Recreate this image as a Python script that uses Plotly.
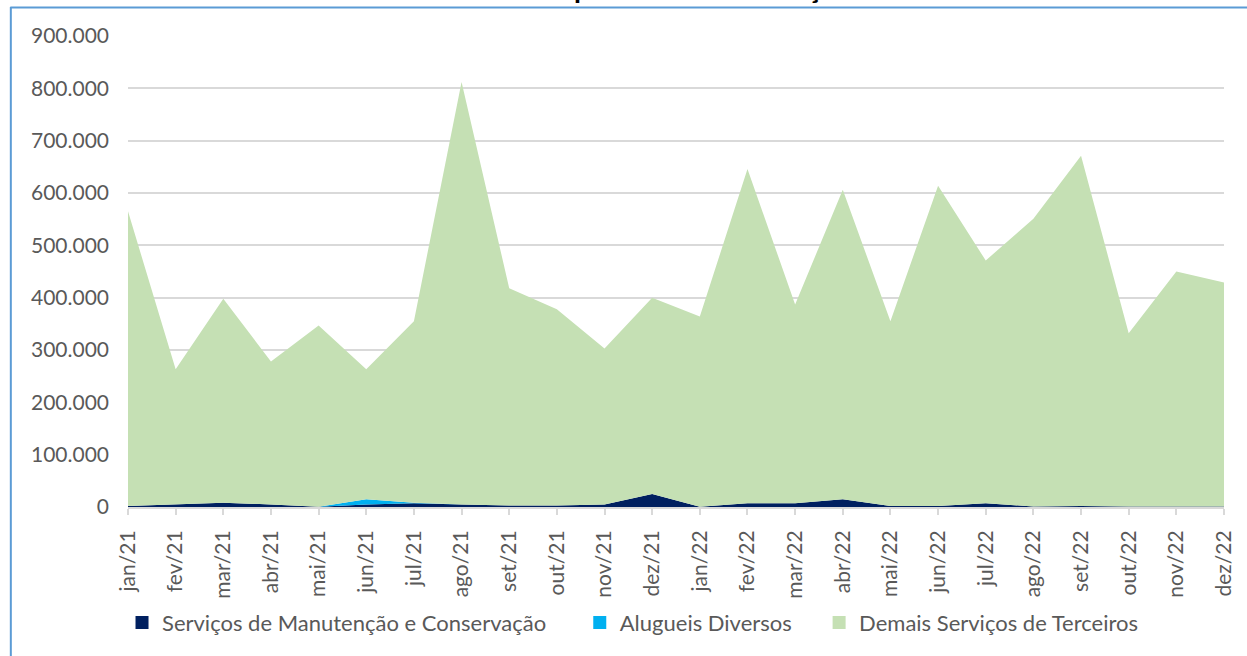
import plotly.graph_objects as go

months = ["jan/21","fev/21","mar/21","abr/21","mai/21","jun/21","jul/21","ago/21","set/21","out/21","nov/21","dez/21",
          "jan/22","fev/22","mar/22","abr/22","mai/22","jun/22","jul/22","ago/22","set/22","out/22","nov/22","dez/22"]

manutencao = [2000, 5000, 8000, 5000, 500, 5000, 7000, 5000, 3000, 3000, 5000, 25000,
              500, 7000, 7000, 15000, 2000, 2000, 7000, 1000, 2000, 1000, 1000, 1000]
alugueis = [0, 0, 0, 0, 0, 10000, 1000, 0, 0, 0, 0, 0,
            0, 0, 0, 0, 0, 0, 0, 0, 0, 0, 0, 0]
totais = [565000, 263000, 398000, 278000, 347000, 263000, 355000, 812000, 418000, 378000, 303000, 400000,
          364000, 646000, 387000, 606000, 355000, 614000, 471000, 551000, 671000, 332000, 450000, 429000]
demais = [t - m - a for t, m, a in zip(totais, manutencao, alugueis)]

names = ["Serviços de Manutenção e Conservação", "Alugueis Diversos", "Demais Serviços de Terceiros"]
colors = ["#002060", "#00B0F0", "#C5E0B4"]
series = [manutencao, alugueis, demais]

FONT = "Lato"
W, H = 1247, 656
L, R, T, B = 128, 20, 36, 148
pw, ph = W - L - R, H - T - B

def px(x):
    return (x - L) / pw

def py(y):
    return (H - B - y) / ph

fig = go.Figure()
for nm, col, vals in zip(names, colors, series):
    fig.add_trace(go.Scatter(x=months, y=vals, name=nm, stackgroup="one", mode="lines",
                             line=dict(width=0, color=col), fillcolor=col, showlegend=False,
                             hoverinfo="x+y+name"))

legend_ids = ["legend", "legend2", "legend3"]
legend_x = [137, 596, 836]
for nm, col, lid in zip(names, colors, legend_ids):
    fig.add_trace(go.Scatter(x=[None], y=[None], name=nm, mode="markers",
                             marker=dict(symbol="square", size=13, color=col),
                             legend=lid, showlegend=True))

leg_common = dict(orientation="h", yanchor="middle", xanchor="left", bgcolor="rgba(0,0,0,0)",
                  font=dict(family=FONT, size=22, color="#595959"), itemwidth=30)
lay_legends = {}
for lid, lx in zip(legend_ids, legend_x):
    lay_legends[lid] = dict(leg_common, x=px(lx - 15), y=py(624))

fig.update_layout(
    width=W, height=H,
    margin=dict(l=L, r=R, t=T, b=B),
    paper_bgcolor="white", plot_bgcolor="white",
    separators=",.",
    font=dict(family=FONT, size=20, color="#595959"),
    xaxis=dict(type="category", range=[0, 23], showgrid=False, showline=True, linecolor="#D9D9D9",
               linewidth=2, ticks="outside", ticklen=6, tickcolor="#D9D9D9", tickwidth=2,
               tickangle=-90, ticklabelstandoff=7,
               tickfont=dict(family=FONT, size=21, color="#595959"), fixedrange=True),
    yaxis=dict(range=[0, 900000], dtick=100000, tickformat=",d", showgrid=True, gridcolor="#D9D9D9",
               gridwidth=1.5, zeroline=False, showline=False, ticklabelstandoff=18,
               tickfont=dict(family=FONT, size=21, color="#595959"), fixedrange=True),
    annotations=[dict(text="<b>Gráfico 15 – Gastos liquidados com Serviços de terceiros</b>",
                      xref="paper", yref="paper", x=px(652), y=py(6), xanchor="center", yanchor="bottom",
                      showarrow=False, font=dict(family=FONT, size=28, color="#000000"))],
    shapes=[
        dict(type="line", xref="paper", yref="paper", x0=px(10), x1=px(1260), y0=py(7.5), y1=py(7.5),
             line=dict(color="#5B9BD5", width=2)),
        dict(type="line", xref="paper", yref="paper", x0=px(10.5), x1=px(10.5), y0=py(7), y1=py(670),
             line=dict(color="#5B9BD5", width=2)),
    ],
    **lay_legends,
)

fig.write_html("out.html", config={"displayModeBar": False},
               post_script="document.body.style.margin='0';")
